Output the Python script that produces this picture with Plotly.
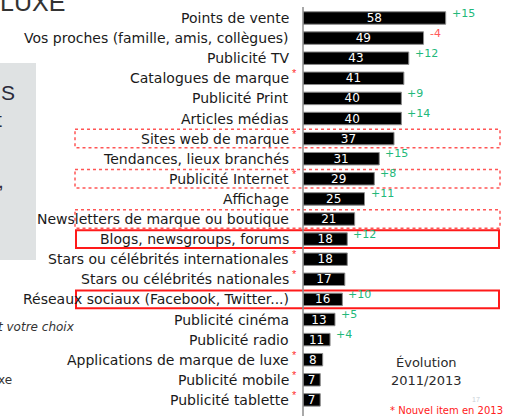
import plotly.graph_objects as go

W, H = 510, 416

categories = [
    "Points de vente",
    "Vos proches (famille, amis, collègues)",
    "Publicité TV",
    "Catalogues de marque",
    "Publicité Print",
    "Articles médias",
    "Sites web de marque",
    "Tendances, lieux branchés",
    "Publicité Internet",
    "Affichage",
    "Newsletters de marque ou boutique",
    "Blogs, newsgroups, forums",
    "Stars ou célébrités internationales",
    "Stars ou célébrités nationales",
    "Réseaux sociaux (Facebook, Twitter...)",
    "Publicité cinéma",
    "Publicité radio",
    "Applications de marque de luxe",
    "Publicité mobile",
    "Publicité tablette",
]
values = [58, 49, 43, 41, 40, 40, 37, 31, 29, 25, 21, 18, 18, 17, 16, 13, 11, 8, 7, 7]
evolution = ["+15", "-4", "+12", None, "+9", "+14", None, "+15", "+8", "+11",
             None, "+12", None, None, "+10", "+5", "+4", None, None, None]
new_item = [False, False, False, True, False, False, True, False, True, False,
            False, False, True, True, False, False, False, True, True, True]
dotted_rows = ["Sites web de marque", "Publicité Internet", "Newsletters de marque ou boutique"]
solid_rows = ["Blogs, newsgroups, forums", "Réseaux sociaux (Facebook, Twitter...)"]


def px(x):
    return x / W


def py(y):
    return 1 - y / H


FONT = "Liberation Sans, Arial, sans-serif"
WIDE = "DejaVu Sans, Verdana, sans-serif"

fig = go.Figure()
fig.add_trace(go.Bar(
    orientation="h",
    x=values,
    y=categories,
    width=0.62,
    marker=dict(color="#000000", line=dict(color="#8a8a8a", width=1)),
    text=[str(v) for v in values],
    textposition="inside",
    insidetextanchor="middle",
    textangle=0,
    textfont=dict(color="white", size=12, family=WIDE),
    hoverinfo="skip",
))

n = len(categories)
x0_axis = 303
ppu = 2.46
xmax = (W - x0_axis) / ppu

annotations = []
shapes = []

# category labels
for c, nw in zip(categories, new_item):
    annotations.append(dict(xref="paper", yref="y", x=px(291), y=c, xanchor="right",
                            yanchor="middle", text=c, showarrow=False,
                            font=dict(family=WIDE, size=14, color="#1a1a1a")))
    if nw:
        annotations.append(dict(xref="paper", yref="y", x=px(290), y=c, xanchor="left",
                                yanchor="middle", yshift=5, text="*", showarrow=False,
                                font=dict(family=FONT, size=11, color="#ff3030")))

# evolution
for c, v, e in zip(categories, values, evolution):
    if e:
        col = "#ff5a5a" if e.startswith("-") else "#22b87a"
        annotations.append(dict(xref="x", yref="y", x=v, y=c, xanchor="left",
                                yanchor="middle", xshift=4, yshift=5, text=e, showarrow=False,
                                font=dict(family=WIDE, size=11, color=col)))

# boxes
for c in dotted_rows:
    i = categories.index(c)
    shapes.append(dict(type="rect", xref="paper", yref="y", x0=px(75), x1=px(500),
                       y0=i - 0.46, y1=i + 0.46,
                       line=dict(color="#ff5555", width=1.5, dash="dot")))
for c in solid_rows:
    i = categories.index(c)
    shapes.append(dict(type="rect", xref="paper", yref="y", x0=px(76), x1=px(499),
                       y0=i - 0.44, y1=i + 0.44,
                       line=dict(color="#ff1a1a", width=2)))

# axis line
shapes.append(dict(type="line", xref="paper", yref="paper", x0=px(x0_axis), x1=px(x0_axis),
                   y0=0, y1=py(7), line=dict(color="#8c8c8c", width=1.5)))

# left grey panel
shapes.append(dict(type="rect", xref="paper", yref="paper", x0=0, x1=px(36),
                   y0=py(260), y1=py(63), fillcolor="#dfe2e3", line=dict(width=0),
                   layer="below"))

# other texts
annotations += [
    dict(xref="paper", yref="paper", x=px(-2), y=py(13), xanchor="left", yanchor="bottom",
         yshift=-5, text="LUXE", showarrow=False,
         font=dict(family=FONT, size=25, color="#333333")),
    dict(xref="paper", yref="paper", x=px(-1), y=py(92), xanchor="left", yanchor="middle",
         text="S", showarrow=False, font=dict(family=FONT, size=21, color="#2a2a3a")),
    dict(xref="paper", yref="paper", x=px(-6), y=py(119), xanchor="left", yanchor="middle",
         text="t", showarrow=False, font=dict(family=FONT, size=21, color="#2a2a3a")),
    dict(xref="paper", yref="paper", x=px(-4), y=py(180), xanchor="left", yanchor="middle",
         text=",", showarrow=False, font=dict(family=FONT, size=21, color="#2a2a3a")),
    dict(xref="paper", yref="paper", x=px(-4), y=py(327), xanchor="left", yanchor="middle",
         text="<i>t votre choix</i>", showarrow=False,
         font=dict(family=WIDE, size=12, color="#333333")),
    dict(xref="paper", yref="paper", x=px(-4), y=py(380), xanchor="left", yanchor="middle",
         text="xe", showarrow=False, font=dict(family=WIDE, size=12, color="#333333")),
    dict(xref="paper", yref="paper", x=px(426), y=py(362), xanchor="center", yanchor="middle",
         text="Évolution", showarrow=False, font=dict(family=WIDE, size=13, color="#2a2a2a")),
    dict(xref="paper", yref="paper", x=px(426), y=py(380), xanchor="center", yanchor="middle",
         text="2011/2013", showarrow=False, font=dict(family=WIDE, size=13, color="#2a2a2a")),
    dict(xref="paper", yref="paper", x=px(388), y=py(410), xanchor="left", yanchor="middle",
         text="* Nouvel item en 2013", showarrow=False,
         font=dict(family=WIDE, size=10, color="#ff2020")),
    dict(xref="paper", yref="paper", x=px(470), y=py(399), xanchor="left", yanchor="middle",
         text="17", showarrow=False, font=dict(family=FONT, size=7, color="#c8d0d8")),
]

ytop, ybot = 18 - 10.05, 18 + 19 * 20.1 + 10.05
fig.update_layout(
    width=W, height=H,
    margin=dict(l=0, r=0, t=0, b=0),
    paper_bgcolor="white", plot_bgcolor="rgba(0,0,0,0)",
    showlegend=False,
    bargap=0.38,
    uniformtext=dict(minsize=12, mode="show"),
    xaxis=dict(domain=[px(x0_axis), 1], range=[0, xmax], visible=False, fixedrange=True),
    yaxis=dict(domain=[py(ybot), py(ytop)], type="category", categoryorder="array",
               categoryarray=categories, range=[n - 0.5, -0.5], visible=False),
    annotations=annotations,
    shapes=shapes,
    font=dict(family=FONT),
)

fig.write_html("out.html")
